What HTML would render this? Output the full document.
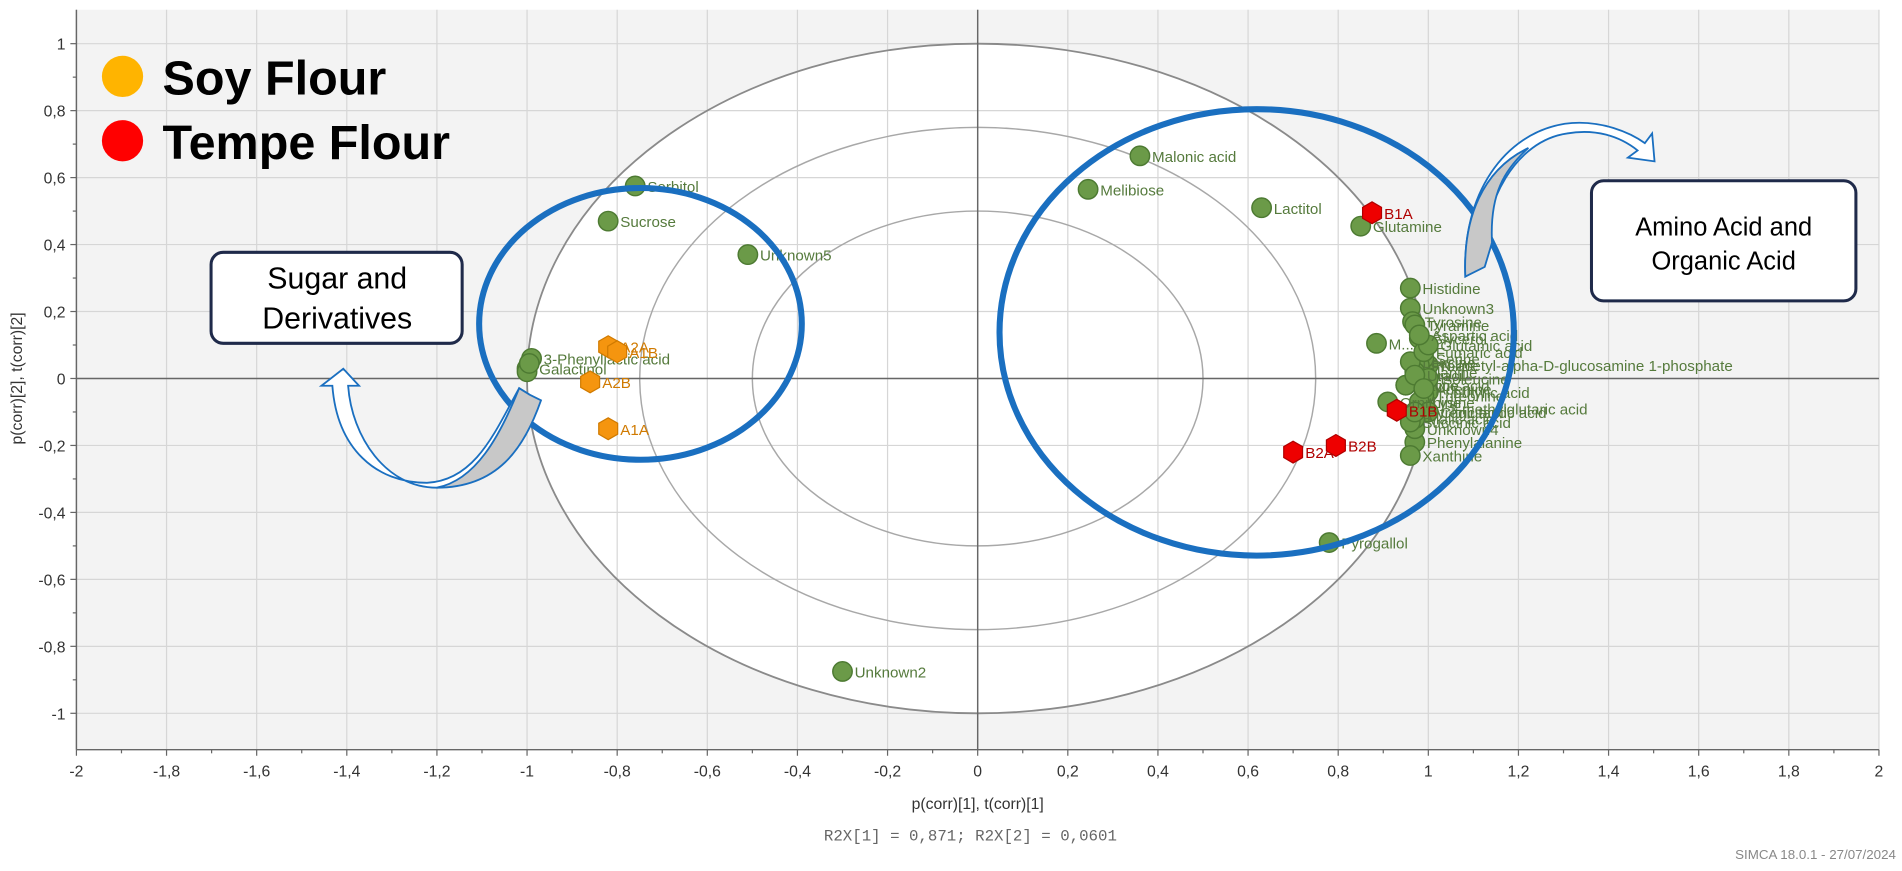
<!DOCTYPE html>
<html><head><meta charset="utf-8">
<style>
html,body{margin:0;padding:0;background:#fff;}
svg{display:block;}
text{font-family:"Liberation Sans",sans-serif;}
</style></head>
<body>
<svg id="chart" width="1902" height="871" viewBox="0 0 1568 718" preserveAspectRatio="none" xmlns="http://www.w3.org/2000/svg">
<rect x="0" y="0" width="1568" height="718" fill="#fff"/>
<rect x="63" y="8" width="1486" height="610" fill="#f3f3f3"/>
<g id="grid"></g>
<g id="rings"></g>
<g id="axes"></g>
<g id="points"></g>
<g id="samples"></g>

<ellipse cx="528" cy="267" rx="133" ry="112" fill="none" stroke="#1a6fc0" stroke-width="5"/>
<ellipse cx="1036" cy="274" rx="212" ry="184" fill="none" stroke="#1a6fc0" stroke-width="5"/>

<g>
<path d="M436,325 C420,360 400,400 360,402 C318,402 290,360 287,318 L296,318 L283,304 L265,318 L274,318 C278,370 310,398 352,398 C392,396 408,356 428,320 Z" fill="#fff" stroke="#1a6fc0" stroke-width="1.5"/>
<path d="M436,325 L446,330 C432,370 410,402 360,402 C392,396 412,360 428,320 Z" fill="#c8c8c8" stroke="#1a6fc0" stroke-width="1.5"/>
</g>
<g>
<path d="M1208,228 C1205,160 1240,110 1290,102 C1320,98 1345,110 1356,118 L1362,110 L1364,133 L1342,130 L1350,124 C1335,112 1315,106 1292,110 C1250,116 1222,165 1222,220 Z" fill="#fff" stroke="#1a6fc0" stroke-width="1.5"/>
<path d="M1208,228 L1224,220 L1230,200 C1228,160 1240,140 1260,122 C1222,140 1206,180 1208,228 Z" fill="#c8c8c8" stroke="#1a6fc0" stroke-width="1.5"/>
</g>

<g>
<rect x="174" y="208" width="207" height="75" rx="10" fill="#fff" stroke="#1f2a4a" stroke-width="2.5"/>
<text x="278" y="238" font-size="25" text-anchor="middle" fill="#000">Sugar and</text>
<text x="278" y="271" font-size="25" text-anchor="middle" fill="#000">Derivatives</text>
</g>
<g>
<rect x="1312" y="149" width="218" height="99" rx="10" fill="#fff" stroke="#1f2a4a" stroke-width="2.5"/>
<text x="1421" y="194" font-size="21" text-anchor="middle" fill="#000">Amino Acid and</text>
<text x="1421" y="222" font-size="21" text-anchor="middle" fill="#000">Organic Acid</text>
</g>

<g>
<circle cx="101" cy="63" r="17" fill="#ffb400"/>
<text x="134" y="78" font-size="40" font-weight="bold" fill="#000">Soy Flour</text>
<circle cx="101" cy="116" r="17" fill="#ff0000"/>
<text x="134" y="131" font-size="40" font-weight="bold" fill="#000">Tempe Flour</text>
</g>

<text x="806" y="667" font-size="13" text-anchor="middle" fill="#333">p(corr)[1], t(corr)[1]</text>
<text x="800" y="693" font-size="13" text-anchor="middle" fill="#666" style="font-family:'Liberation Mono',monospace">R2X[1] = 0,871; R2X[2] = 0,0601</text>
<text transform="translate(18,312) rotate(-90)" font-size="13" text-anchor="middle" fill="#333">p(corr)[2], t(corr)[2]</text>
<text x="1563" y="708" font-size="11" text-anchor="end" fill="#888">SIMCA 18.0.1 - 27/07/2024</text>
</svg>
<script>
const xTicks=[-2,-1.8,-1.6,-1.4,-1.2,-1,-0.8,-0.6,-0.4,-0.2,0,0.2,0.4,0.6,0.8,1,1.2,1.4,1.6,1.8,2];
const yTicks=[-1,-0.8,-0.6,-0.4,-0.2,0,0.2,0.4,0.6,0.8,1];
const ringRadii=[1,0.75,0.5];
const varNames=["Sorbitol","Sucrose","Unknown5","Malonic acid","Melibiose","Lactitol","Glutamine","Unknown2","Pyrogallol","Histidine","Unknown3","M...","Phenylalanine","Xanthine","Unknown4","3-Phenyllactic acid","Galactinol","","","N-acetyl-alpha-D-glucosamine 1-phosphate","...butyric acid","...3-methylglutaric acid","Tyrosine","Tyramine","Glycerol","Serine","Proline","Alanine","Valine","Leucine","Isoleucine","Threonine","Lysine","Citric acid","Malic acid","Succinic acid","Fumaric acid","Lactic acid","Glutamic acid","Aspartic acid","Pyroglutamic acid","Ornithine","Uracil","Adenine"];
const varX=[-0.76,-0.82,-0.51,0.36,0.245,0.63,0.85,-0.3,0.78,0.96,0.96,0.885,0.97,0.96,0.97,-0.99,-1.0,-1.0,-0.995,1.0,1.0,0.99,0.965,0.97,0.98,0.99,0.98,0.97,0.95,0.96,1.0,0.99,0.98,1.0,0.97,0.96,0.99,0.95,1.0,0.98,0.97,0.91,0.97,0.99];
const varY=[0.575,0.47,0.37,0.665,0.565,0.51,0.455,-0.875,-0.49,0.27,0.21,0.105,-0.19,-0.23,-0.15,0.06,0.03,0.02,0.045,0.04,-0.04,-0.09,0.17,0.16,0.12,0.06,0.04,0.02,-0.02,0.05,0.0,-0.05,-0.07,-0.1,-0.12,-0.13,0.08,-0.02,0.1,0.13,-0.1,-0.07,0.01,-0.03];
const sampleNames=["A2A","A1B","A2B","A1A","B1A","B1B","B2A","B2B"];
const sampleX=[-0.82,-0.8,-0.86,-0.82,0.875,0.93,0.7,0.795];
const sampleY=[0.095,0.08,-0.01,-0.15,0.495,-0.095,-0.22,-0.2];
const sampleGroup=["soy","soy","soy","soy","tempe","tempe","tempe","tempe"];

const NS="http://www.w3.org/2000/svg";
const X0=806,XS=371.5,Y0=312,YS=276,L=63,R=1549,T=8,B=618;
const sx=v=>X0+v*XS, sy=v=>Y0-v*YS;
function mk(tag,attrs,parent){const e=document.createElementNS(NS,tag);for(const k in attrs)e.setAttribute(k,attrs[k]);parent.appendChild(e);return e;}
const grid=document.getElementById('grid'),axes=document.getElementById('axes'),rings=document.getElementById('rings');
mk('ellipse',{cx:sx(0),cy:sy(0),rx:XS,ry:YS,fill:'#fff'},grid);
xTicks.forEach(t=>{const l=mk('line',{x1:sx(t),x2:sx(t),y1:T,y2:B,stroke:'#d6d6d6','stroke-width':1},grid);

});
yTicks.forEach(t=>{const l=mk('line',{x1:L,x2:R,y1:sy(t),y2:sy(t),stroke:'#d6d6d6','stroke-width':1},grid);

});
ringRadii.forEach(r=>{const e=mk('ellipse',{cx:sx(0),cy:sy(0),rx:r*XS,ry:r*YS,fill:'none',stroke:r===1?'#8a8a8a':'#a8a8a8','stroke-width':r===1?1.5:1.2},rings);

});
mk('line',{x1:sx(0),x2:sx(0),y1:T,y2:B,stroke:'#666','stroke-width':1.2},axes);
mk('line',{x1:L,x2:R,y1:sy(0),y2:sy(0),stroke:'#666','stroke-width':1.2},axes);
mk('line',{x1:L,x2:L,y1:T,y2:B,stroke:'#666','stroke-width':1.2},axes);
mk('line',{x1:L,x2:R,y1:B,y2:B,stroke:'#666','stroke-width':1.2},axes);
xTicks.forEach((t,i)=>{mk('line',{x1:sx(t),x2:sx(t),y1:B,y2:B+5,stroke:'#666'},axes);
if(i<xTicks.length-1)mk('line',{x1:sx(t+0.1),x2:sx(t+0.1),y1:B,y2:B+3,stroke:'#666'},axes);
const tx=mk('text',{x:sx(t),y:B+22,'font-size':13,'text-anchor':'middle',fill:'#333'},axes);
tx.textContent=String(+t.toFixed(1)).replace('.',',');

});
yTicks.forEach((t,i)=>{mk('line',{x1:L-5,x2:L,y1:sy(t),y2:sy(t),stroke:'#666'},axes);
if(i<yTicks.length-1)mk('line',{x1:L-3,x2:L,y1:sy(t+0.1),y2:sy(t+0.1),stroke:'#666'},axes);
const tx=mk('text',{x:L-9,y:sy(t)+5,'font-size':13,'text-anchor':'end',fill:'#333'},axes);
tx.textContent=String(+t.toFixed(1)).replace('.',',');

});
const pts=document.getElementById('points');
varX.forEach((v,i)=>{const c=mk('circle',{cx:sx(v),cy:sy(varY[i]),r:8,fill:'#6b9a48',stroke:'#4d7a32','stroke-width':1.2},pts);


if(varNames[i]){const t=mk('text',{x:sx(v)+10,y:sy(varY[i])+5,'font-size':12.5,fill:'#557a3c'},pts);t.textContent=varNames[i];

}});
const sg=document.getElementById('samples');
sampleX.forEach((v,i)=>{const cx=sx(v),cy=sy(sampleY[i]),r=9;let p='';
for(let k=0;k<6;k++){const a=Math.PI/3*k+Math.PI/6;p+=(cx+r*Math.cos(a)).toFixed(1)+','+(cy+r*Math.sin(a)).toFixed(1)+' ';}
const soy=sampleGroup[i]==='soy';
const h=mk('polygon',{points:p,fill:soy?'#f5950f':'#ee0000',stroke:soy?'#d07a00':'#b00000','stroke-width':1},sg);


const t=mk('text',{x:cx+10,y:cy+5,'font-size':12.5,fill:soy?'#d07a00':'#b00000'},sg);t.textContent=sampleNames[i];

});
</script>
</body></html>
